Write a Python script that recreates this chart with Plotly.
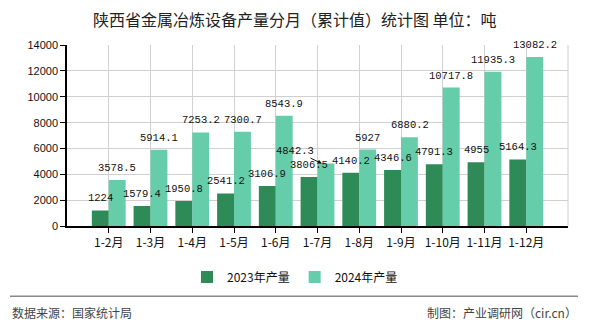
import plotly.graph_objects as go

categories = ["1-2月", "1-3月", "1-4月", "1-5月", "1-6月", "1-7月", "1-8月", "1-9月", "1-10月", "1-11月", "1-12月"]
values_2023 = [1224, 1579.4, 1950.8, 2541.2, 3106.9, 3806.5, 4140.2, 4346.6, 4791.3, 4955, 5164.3]
values_2024 = [3578.5, 5914.1, 7253.2, 7300.7, 8543.9, 4842.3, 5927, 6880.2, 10717.8, 11935.3, 13082.2]
series_names = ["2023年产量", "2024年产量"]
title_text = "陕西省金属冶炼设备产量分月（累计值）统计图 单位：吨"
source_text = "数据来源：国家统计局"
credit_text = "制图：产业调研网（cir.cn）"
callout_index = 5  # 2024 label drawn with a leader line in the reference

W, H = 590, 330
ML, MR, MT, MB = 67, 22, 45, 101
PW, PH = W - ML - MR, H - MT - MB
BAR_HALF = 8.5  # half bar width in px, used to centre labels over each bar

def px_x(px):
    return (px - ML) / PW

def px_y(py):
    return (H - MB - py) / PH

def fmt(v):
    return ("%g" % v)

label_font = dict(family="Liberation Mono, DejaVu Sans Mono, monospace", size=10.5, color="#111")

fig = go.Figure()
fig.add_trace(go.Bar(
    x=categories, y=values_2023, name=series_names[0],
    marker=dict(color="#2E8B57", line=dict(width=0)), hoverinfo="x+y",
))
fig.add_trace(go.Bar(
    x=categories, y=values_2024, name=series_names[1],
    marker=dict(color="#66CDAA", line=dict(width=0)), hoverinfo="x+y",
))

# value labels (drawn as annotations so they sit above all bars)
for series, shift in ((values_2023, -BAR_HALF), (values_2024, BAR_HALF)):
    for i, (cat, v) in enumerate(zip(categories, series)):
        if series is values_2024 and i == callout_index:
            fig.add_annotation(
                x=cat, y=v, xref="x", yref="y", xshift=shift - 4,
                text=fmt(v), font=label_font,
                showarrow=True, arrowhead=2, arrowsize=0.9, arrowwidth=1, arrowcolor="#111",
                ax=-27, ay=-13, standoff=0,
            )
        else:
            fig.add_annotation(
                x=cat, y=v, xref="x", yref="y", xshift=shift, yshift=4,
                text=fmt(v), font=label_font, showarrow=False,
                xanchor="center", yanchor="bottom",
            )

fig.add_annotation(
    text=title_text, xref="paper", yref="paper", x=px_x(W / 2), y=px_y(19),
    xanchor="center", yanchor="middle", showarrow=False,
    font=dict(family="Noto Sans CJK SC", size=16, color="#222"),
)
fig.add_annotation(
    text=source_text, xref="paper", yref="paper", x=px_x(10), y=px_y(316),
    xanchor="left", yanchor="middle", showarrow=False,
    font=dict(family="Noto Sans CJK SC", size=12, color="#444"),
)
fig.add_annotation(
    text=credit_text, xref="paper", yref="paper", x=px_x(579), y=px_y(316),
    xanchor="right", yanchor="middle", showarrow=False,
    font=dict(family="Noto Sans CJK SC", size=12, color="#444"),
)

# right border line of plot area and separator line above footer
fig.add_shape(type="line", xref="paper", yref="paper", x0=1, x1=1, y0=0, y1=1,
              line=dict(color="#d0d0d0", width=1))
fig.add_shape(type="line", xref="paper", yref="paper",
              x0=px_x(10), x1=px_x(578), y0=px_y(300), y1=px_y(300),
              line=dict(color="#888", width=1.5))

fig.update_layout(
    width=W, height=H,
    margin=dict(l=ML, r=MR, t=MT, b=MB),
    paper_bgcolor="white", plot_bgcolor="white",
    barmode="group", bargap=0.19, bargroupgap=0,
    showlegend=True,
    legend=dict(orientation="h", xref="container", yref="container",
                x=0.5, y=1 - 277 / H, xanchor="center", yanchor="middle",
                font=dict(family="Noto Sans CJK SC", size=12, color="#111"),
                itemwidth=30, traceorder="normal"),
    font=dict(family="Noto Sans CJK SC", size=12, color="#111"),
)
fig.update_xaxes(
    type="category", range=[-1, len(categories)],
    showgrid=True, gridcolor="#d0d0d0", gridwidth=1,
    showline=True, linecolor="#000", linewidth=1.5,
    ticks="outside", ticklen=5, tickcolor="#000",
    tickfont=dict(family="Noto Sans CJK SC", size=12, color="#111"),
)
fig.update_yaxes(
    range=[0, 14000], dtick=2000, tickformat="d",
    showgrid=True, gridcolor="#d0d0d0", gridwidth=1,
    showline=True, linecolor="#000", linewidth=1.5,
    ticks="outside", ticklen=5, tickcolor="#000",
    tickfont=dict(family="Liberation Sans, Arial", size=11, color="#111"),
    zeroline=False,
)

fig.write_html("out.html")
